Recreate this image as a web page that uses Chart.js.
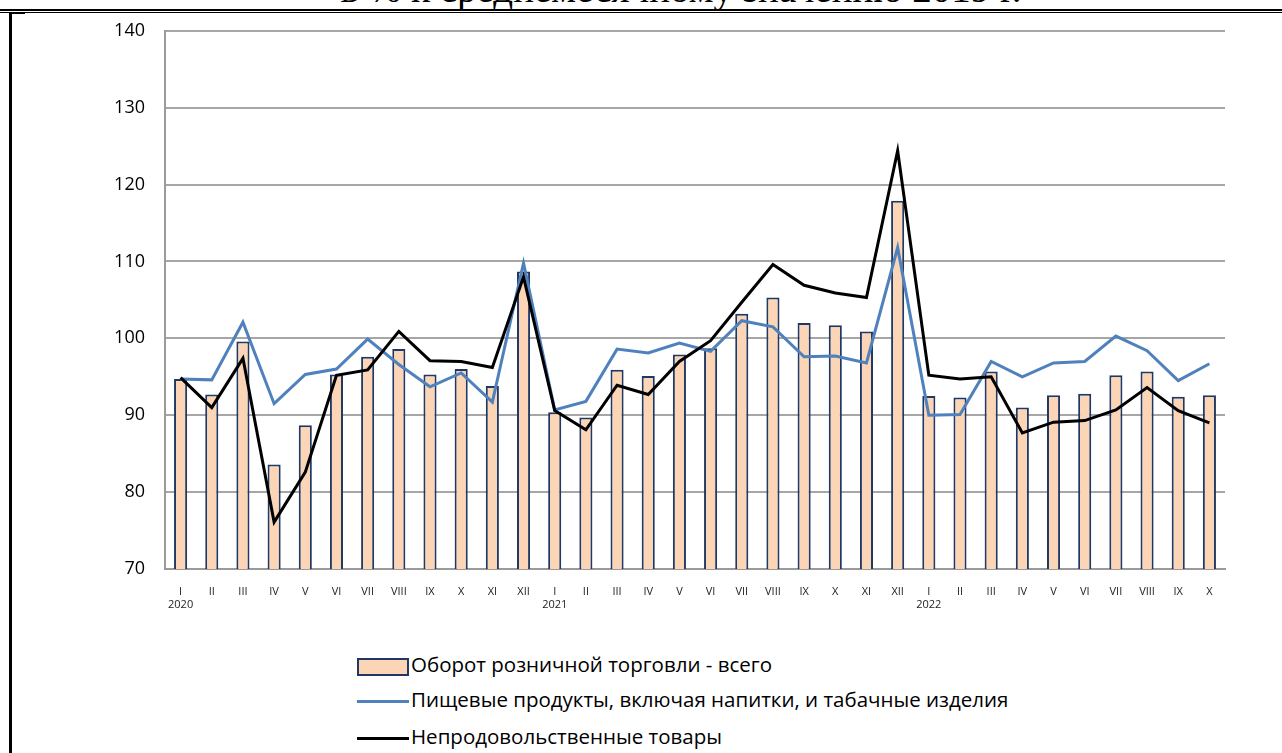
<!DOCTYPE html>
<html>
<head>
<meta charset="utf-8">
<script src="https://cdn.jsdelivr.net/npm/chart.js@4"></script>
<style>
  html, body { margin: 0; padding: 0; background: #fff; }
  body { width: 1282px; height: 753px; position: relative; overflow: hidden; }
  #title { position: absolute; left: 0; width: 1362px; top: -31px; text-align: center;
    font-family: "Liberation Serif", serif; font-size: 39px; line-height: 39px; color: #000; white-space: nowrap; }
  #rule1 { position: absolute; left: 0; top: 9px; width: 1282px; height: 2px; background: #000; }
  #rule2 { position: absolute; left: 0; top: 12px; width: 1282px; height: 1px; background: #000; }
  #frameLeft { position: absolute; left: 9px; top: 12px; width: 3px; height: 741px; background: #000; }
  #corner { position: absolute; left: 12px; top: 13px; width: 13px; height: 1px; background: #000; }
  #wrap { position: absolute; left: 0; top: 0; width: 1282px; height: 620px; }
  #legend { position: absolute; left: 357px; top: 0; font-family: "Open Sans", sans-serif; font-size: 20.5px; color: #000; }
  .item { position: absolute; left: 0; white-space: nowrap; height: 20px; }
  .item span.t { position: absolute; left: 54px; top: -6px; }
  .box { position: absolute; left: 0; top: 2px; width: 48px; height: 14px; }
  .ln { position: absolute; left: 0; top: 9px; width: 52px; height: 3px; }
</style>
</head>
<body>
<div id="title">в % к среднемесячному значению 2019 г.</div>
<div id="rule1"></div><div id="rule2"></div><div id="frameLeft"></div><div id="corner"></div>
<div id="wrap"><canvas id="retailChart"></canvas></div>
<div id="legend"></div>
<script>
// Month labels (Roman numerals); year shown under January
const months = [
  'I', 'II', 'III', 'IV', 'V', 'VI', 'VII', 'VIII', 'IX', 'X', 'XI', 'XII',
  'I', 'II', 'III', 'IV', 'V', 'VI', 'VII', 'VIII', 'IX', 'X', 'XI', 'XII',
  'I', 'II', 'III', 'IV', 'V', 'VI', 'VII', 'VIII', 'IX', 'X'
];
const years = { 0: '2020', 12: '2021', 24: '2022' };

// Retail turnover, total (bars)
const totalTurnover = [
  94.7, 92.7, 99.6, 83.6, 88.7, 95.3, 97.6, 98.6, 95.3, 96.0, 93.8, 108.7,
  90.4, 89.7, 95.9, 95.1, 97.9, 98.7, 103.2, 105.3, 102.0, 101.7, 100.9, 117.9,
  92.5, 92.3, 95.7, 91.0, 92.6, 92.8, 95.2, 95.7, 92.4, 92.6
];

// Food products incl. beverages and tobacco (blue line)
const foodProducts = [
  94.7, 94.6, 102.1, 91.5, 95.3, 96.0, 99.9, 96.6, 93.7, 95.5, 91.7, 109.8,
  90.7, 91.8, 98.6, 98.1, 99.4, 98.3, 102.3, 101.5, 97.6, 97.7, 96.8, 111.8,
  90.0, 90.1, 97.0, 95.0, 96.8, 97.0, 100.3, 98.4, 94.5, 96.7
];

// Non-food goods (black line)
const nonFoodGoods = [
  94.9, 91.0, 97.4, 76.1, 82.6, 95.2, 95.9, 100.9, 97.1, 97.0, 96.2, 108.0,
  90.6, 88.1, 93.9, 92.7, 97.0, 99.7, 104.7, 109.6, 106.9, 105.9, 105.3, 124.4,
  95.2, 94.7, 95.0, 87.7, 89.1, 89.3, 90.7, 93.6, 90.6, 89.0
];

const labels = months.map((m, i) => years[i] ? [m, years[i]] : m);

const ctx = document.getElementById('retailChart').getContext('2d');
const chart = new Chart(ctx, {
  data: {
    labels: labels,
    datasets: [
      {
        type: 'bar',
        label: 'Оборот розничной торговли - всего',
        data: totalTurnover,
        backgroundColor: '#FBD5B5',
        borderColor: '#1F3864',
        borderWidth: 2,
        barPercentage: 0.42,
        categoryPercentage: 1,
        order: 3
      },
      {
        type: 'line',
        label: 'Пищевые продукты, включая напитки, и табачные изделия',
        data: foodProducts,
        borderColor: '#4F81BD',
        borderWidth: 3,
        pointRadius: 0,
        tension: 0,
        order: 2
      },
      {
        type: 'line',
        label: 'Непродовольственные товары',
        data: nonFoodGoods,
        borderColor: '#000000',
        borderWidth: 3,
        pointRadius: 0,
        tension: 0,
        order: 1
      }
    ]
  },
  options: {
    responsive: true,
    maintainAspectRatio: false,
    animation: false,
    layout: { padding: { left: 0, right: 57, top: 30, bottom: 0 } },
    scales: {
      x: {
        grid: { display: false },
        border: { color: '#9a9a9a', width: 2 },
        ticks: {
          color: '#222',
          font: { family: 'Open Sans', size: 11 },
          padding: 8,
          maxRotation: 0,
          autoSkip: false,
          lineHeight: 1.6
        },
        afterFit: (scale) => { scale.height = 51; }
      },
      y: {
        min: 70,
        max: 140,
        ticks: {
          stepSize: 10,
          color: '#000',
          font: { family: 'Open Sans', size: 18 },
          padding: 20
        },
        grid: { color: '#a6a6a6', lineWidth: 2, drawTicks: false },
        border: { color: '#9a9a9a', width: 2 },
        afterFit: (scale) => { scale.width = 165; }
      }
    },
    plugins: {
      legend: { display: false },
      tooltip: { enabled: false }
    }
  }
});

// Legend (one entry per row, like the original)
const legendEl = document.getElementById('legend');
const rows = [656, 691, 728];
chart.data.datasets.forEach((ds, i) => {
  const item = document.createElement('div');
  item.className = 'item';
  item.style.top = rows[i] + 'px';
  const mark = document.createElement('div');
  if (ds.type === 'bar') {
    mark.className = 'box';
    mark.style.background = ds.backgroundColor;
    mark.style.border = '2px solid ' + ds.borderColor;
  } else {
    mark.className = 'ln';
    mark.style.background = ds.borderColor;
  }
  const txt = document.createElement('span');
  txt.className = 't';
  txt.textContent = ds.label;
  item.appendChild(mark);
  item.appendChild(txt);
  legendEl.appendChild(item);
});
</script>
</body>
</html>
